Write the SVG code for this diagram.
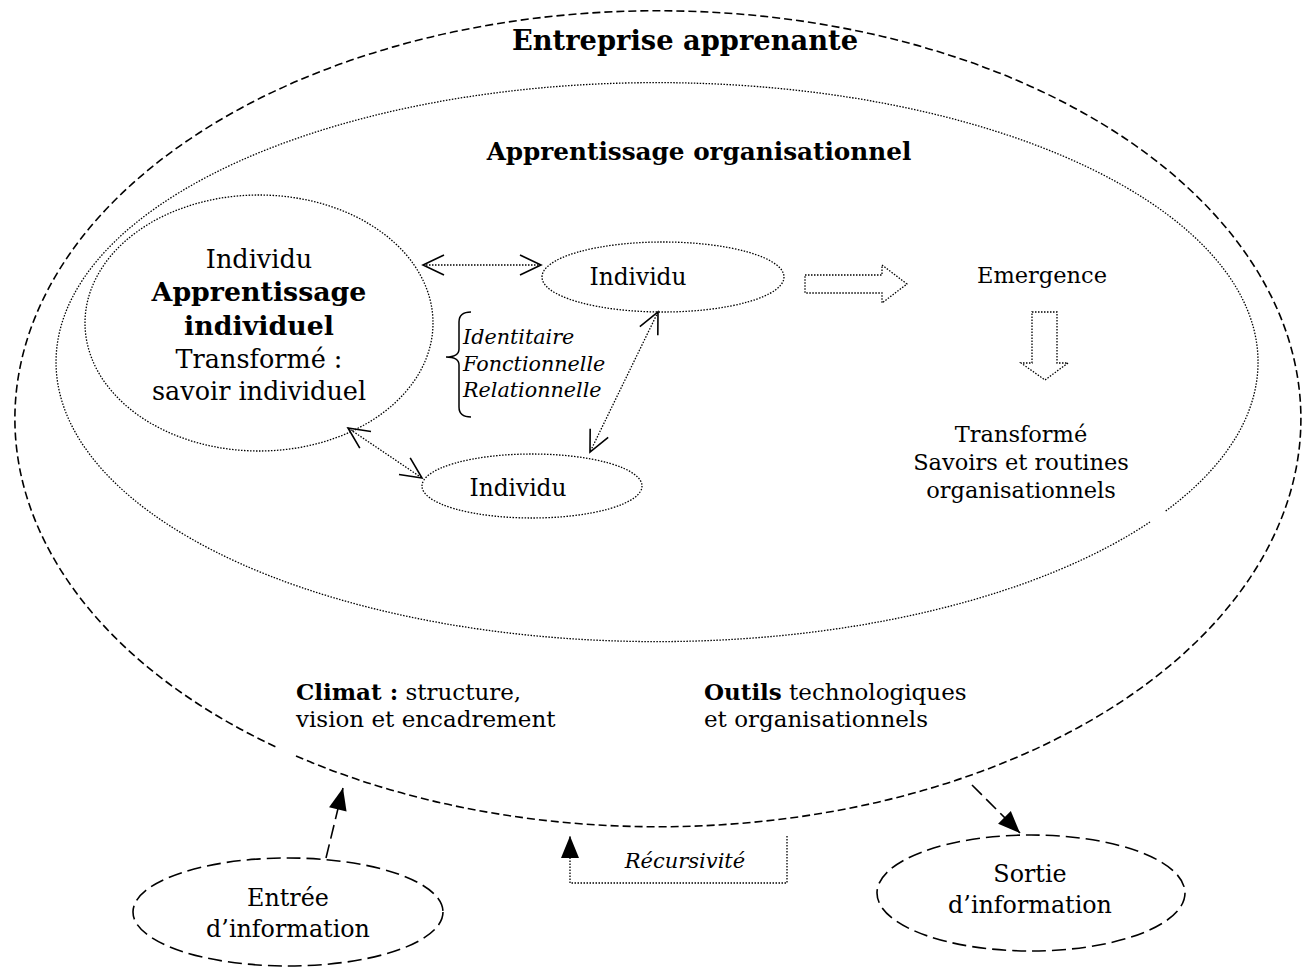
<svg xmlns="http://www.w3.org/2000/svg" width="1306" height="968" viewBox="0 0 1306 968">
<style>
text{font-family:"DejaVu Serif","Liberation Serif",serif;fill:#000}
.b{font-weight:bold}
.i{font-style:italic}
.dot{fill:none;stroke:#000;stroke-width:1.3;stroke-dasharray:1.5 1.5}
.dash{fill:none;stroke:#000;stroke-width:1.6;stroke-dasharray:8 4}
.ldash{fill:none;stroke:#000;stroke-width:1.6;stroke-dasharray:14 6}
.c{text-anchor:middle}
</style>
<defs>
<marker id="vh" viewBox="0 0 22 20" refX="21" refY="10" markerWidth="22" markerHeight="20" markerUnits="userSpaceOnUse" orient="auto-start-reverse" overflow="visible">
<path d="M0,0 L21,10 L0,20" fill="none" stroke="#000" stroke-width="1.6"/>
</marker>
<marker id="tri" viewBox="0 0 22 18" refX="22" refY="9" markerWidth="22" markerHeight="18" markerUnits="userSpaceOnUse" orient="auto" overflow="visible">
<path d="M0,0 L22,9 L0,18 Z" fill="#000"/>
</marker>
</defs>
<rect width="1306" height="968" fill="#fff"/>

<g id="entreprise">
<path class="dash" d="M296 756 A643 408 0 1 0 276 747"/>
<text class="b c" x="685" y="50" font-size="27.3">Entreprise apprenante</text>
<text x="296" y="700" font-size="23"><tspan class="b">Climat :</tspan> structure,</text>
<text x="296" y="727" font-size="23">vision et encadrement</text>
<text x="704" y="700" font-size="23"><tspan class="b">Outils</tspan> technologiques</text>
<text x="704" y="727" font-size="23">et organisationnels</text>
</g>

<g id="organisationnel">
<path class="dot" d="M1150 522 A601 279.5 0 1 1 1165 511.5"/>
<text class="b c" x="699" y="160" font-size="24.7">Apprentissage organisationnel</text>
</g>

<g id="individu-principal">
<ellipse class="dot" cx="259" cy="323" rx="174" ry="128"/>
<text class="c" x="259" y="268" font-size="25.5">Individu</text>
<text class="b c" x="259" y="301" font-size="26.8">Apprentissage</text>
<text class="b c" x="259" y="335" font-size="26.8">individuel</text>
<text class="c" x="259" y="368" font-size="25.5">Transformé :</text>
<text class="c" x="259" y="400" font-size="25.5">savoir individuel</text>
</g>

<g id="individu-haut">
<ellipse class="dot" cx="663" cy="277" rx="121" ry="35"/>
<text class="c" x="638" y="285" font-size="23.3">Individu</text>
</g>

<g id="individu-bas">
<ellipse class="dot" cx="532" cy="486" rx="110" ry="32"/>
<text class="c" x="518" y="496" font-size="23.3">Individu</text>
</g>

<g id="dimensions">
<path d="M471 312 Q459 312 459 322 L459 349 Q459 357 446 357 Q459 357 459 365 L459 407 Q459 417 471 417" fill="none" stroke="#000" stroke-width="1.5"/>
<text class="i" x="463" y="344" font-size="20.7">Identitaire</text>
<text class="i" x="463" y="371" font-size="20.7">Fonctionnelle</text>
<text class="i" x="463" y="397" font-size="20.7">Relationnelle</text>
</g>

<g id="emergence">
<text class="c" x="1042" y="283" font-size="22.5">Emergence</text>
</g>

<g id="transforme">
<text class="c" x="1021" y="442" font-size="22.5">Transformé</text>
<text class="c" x="1021" y="470" font-size="22.5">Savoirs et routines</text>
<text class="c" x="1021" y="498" font-size="22.5">organisationnels</text>
</g>

<g id="entree">
<ellipse class="ldash" cx="288" cy="912" rx="155" ry="54"/>
<text class="c" x="288" y="906" font-size="23.8">Entrée</text>
<text class="c" x="288" y="937" font-size="23.8">d’information</text>
</g>

<g id="sortie">
<ellipse class="ldash" cx="1031" cy="893" rx="154" ry="58"/>
<text class="c" x="1030" y="882" font-size="23.8">Sortie</text>
<text class="c" x="1030" y="913" font-size="23.8">d’information</text>
</g>

<g id="connecteurs">
<line class="dot" x1="423" y1="265" x2="541" y2="265" marker-start="url(#vh)" marker-end="url(#vh)"/>
<line class="dot" x1="658" y1="312" x2="590" y2="452" marker-start="url(#vh)" marker-end="url(#vh)"/>
<line class="dot" x1="348" y1="428" x2="422" y2="478" marker-start="url(#vh)" marker-end="url(#vh)"/>
<polygon class="dot" points="805,275 882,275 882,265 907,284 882,303 882,293 805,293"/>
<polygon class="dot" points="1032,312 1057,312 1057,363 1068,363 1045,380 1021,363 1032,363"/>
<line class="ldash" x1="326" y1="858" x2="343" y2="788" marker-end="url(#tri)"/>
<line class="ldash" x1="972" y1="785" x2="1020" y2="833" marker-end="url(#tri)"/>
<polyline class="dot" points="787,836 787,883 570,883 570,836" marker-end="url(#tri)"/>
<text class="i" x="685" y="868" font-size="21" text-anchor="middle">Récursivité</text>
</g>
</svg>
